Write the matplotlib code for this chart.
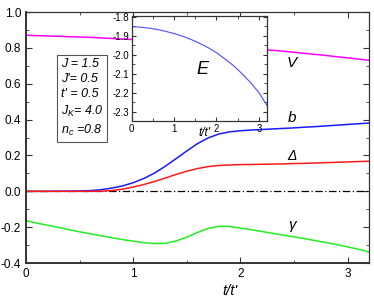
"""
b, Delta, gamma, V vs t/t' with inset E
"""

import numpy as np
import matplotlib
matplotlib.use('Agg')
import matplotlib.pyplot as plt
from matplotlib import rcParams
from matplotlib.ticker import MultipleLocator

rcParams['font.family'] = ['Liberation Sans', 'DejaVu Sans']
rcParams['mathtext.fontset'] = 'custom'
rcParams['mathtext.it'] = 'Liberation Sans:italic'
rcParams['mathtext.rm'] = 'Liberation Sans'

# 数据
t = [0.0, 0.1, 0.2, 0.3, 0.4, 0.5, 0.6, 0.7, 0.8, 0.9, 1.0, 1.1, 1.2, 1.3, 1.4, 1.5, 1.6,
     1.7, 1.8, 1.9, 2.0, 2.1, 2.2, 2.3, 2.4, 2.5, 2.6, 2.7, 2.8, 2.9, 3.0, 3.1, 3.2]
V = [0.871, 0.869, 0.867, 0.865, 0.863, 0.861, 0.859, 0.856, 0.853, 0.850, 0.847, 0.843,
     0.839, 0.835, 0.831, 0.826, 0.822, 0.817, 0.812, 0.807, 0.802, 0.797, 0.792, 0.787,
     0.782, 0.776, 0.770, 0.764, 0.758, 0.751, 0.745, 0.738, 0.731]
b = [0.0, 0.0, 0.0, 0.001, 0.001, 0.002, 0.004, 0.009, 0.018, 0.030, 0.048, 0.072, 0.102,
     0.140, 0.182, 0.225, 0.266, 0.298, 0.320, 0.332, 0.338, 0.342, 0.345, 0.348, 0.351,
     0.354, 0.358, 0.361, 0.365, 0.369, 0.373, 0.377, 0.381]
delta = [0.0, 0.0, 0.0, 0.0, 0.0, 0.0, 0.0, 0.001, 0.004, 0.012, 0.024, 0.038, 0.055, 0.074,
         0.094, 0.112, 0.127, 0.138, 0.144, 0.147, 0.149, 0.150, 0.151, 0.152, 0.153, 0.155,
         0.156, 0.158, 0.160, 0.162, 0.164, 0.166, 0.168]
gamma = [-0.164, -0.177, -0.189, -0.201, -0.214, -0.226, -0.237, -0.248, -0.259, -0.269,
         -0.278, -0.287, -0.292, -0.290, -0.277, -0.256, -0.230, -0.207, -0.195, -0.196,
         -0.205, -0.214, -0.224, -0.234, -0.244, -0.254, -0.264, -0.275, -0.286, -0.297,
         -0.310, -0.323, -0.338]

t_in = [0.0, 0.2, 0.4, 0.6, 0.8, 1.0, 1.2, 1.4, 1.6, 1.8, 2.0, 2.2, 2.4, 2.6, 2.8, 3.0, 3.2]
E = [-1.853, -1.855, -1.860, -1.867, -1.877, -1.889, -1.903, -1.920, -1.940, -1.963, -1.990,
     -2.023, -2.058, -2.100, -2.147, -2.200, -2.272]

params = "J = 1.5\nJ'= 0.5\nt' = 0.5\nJ$_K$= 4.0\nn$_c$ =0.8"


def style_axes(ax, fs):
    ax.tick_params(which='both', direction='in', top=True, right=True, labelsize=fs,
                   colors='#333333', labelcolor='black')
    ax.tick_params(which='major', length=4)
    ax.tick_params(which='minor', length=2.5)
    for s in ax.spines.values():
        s.set_color('#333333')
        s.set_linewidth(0.9)


fig = plt.figure(figsize=(3.74, 3.03), dpi=100)
ax = fig.add_axes([0.0695, 0.132, 0.917, 0.828])

ax.axhline(0, color='black', lw=0.9, ls=(0, (6, 2, 1, 2)))
ax.plot(t, V, color='#ff00ff', lw=1.1)
ax.plot(t, b, color='#1a1aff', lw=1.1)
ax.plot(t, delta, color='#ff1a1a', lw=1.1)
ax.plot(t, gamma, color='#22ee22', lw=1.1)

ax.set_xlim(0, 3.2)
ax.set_ylim(-0.4, 1.0)
ax.xaxis.set_major_locator(MultipleLocator(1))
ax.xaxis.set_minor_locator(MultipleLocator(0.5))
ax.yaxis.set_major_locator(MultipleLocator(0.2))
ax.yaxis.set_minor_locator(MultipleLocator(0.1))
ax.yaxis.set_major_formatter(plt.FuncFormatter(lambda v, p: f'{v:.1f}'))
style_axes(ax, 8.5)
ax.spines['left'].set_linewidth(1.4)
ax.spines['bottom'].set_linewidth(1.4)
ax.set_xlabel("t/t'", fontsize=10.5, style='italic')
ax.xaxis.set_label_coords(0.595, -0.085)

# 曲线标注
ax.text(2.48, 0.715, 'V', fontsize=11, style='italic', ha='center', va='center')
ax.text(2.48, 0.41, 'b', fontsize=11, style='italic', ha='center', va='center')
ax.text(2.48, 0.195, 'Δ', fontsize=10, style='italic', ha='center', va='center')
ax.text(2.48, -0.19, 'γ', fontsize=11, style='italic', ha='center', va='center')

# 参数框
ax.text(0.325, 0.52, params, fontsize=9, style='italic', ha='left', va='center',
        linespacing=1.35,
        bbox=dict(boxstyle='square,pad=0.3', fc='white', ec='#555555', lw=0.8))

# 插图 E
axin = fig.add_axes([0.352, 0.6007, 0.363, 0.3473])
axin.plot(t_in, E, color='#4d4dff', lw=0.8)
axin.set_xlim(0, 3.2)
axin.set_ylim(-2.35, -1.795)
axin.xaxis.set_major_locator(MultipleLocator(1))
axin.xaxis.set_minor_locator(MultipleLocator(0.5))
axin.yaxis.set_major_locator(MultipleLocator(0.1))
axin.yaxis.set_minor_locator(MultipleLocator(0.05))
axin.yaxis.set_major_formatter(plt.FuncFormatter(lambda v, p: f'{v:.1f}'))
style_axes(axin, 7)
axin.tick_params(which='major', length=3, pad=2)
axin.tick_params(which='minor', length=2)
axin.set_xlabel("t/t'", fontsize=8.5, style='italic')
axin.xaxis.set_label_coords(0.54, -0.06)
axin.text(1.68, -2.077, 'E', fontsize=13, style='italic', ha='center', va='center')

plt.savefig('out.png', dpi=100)
